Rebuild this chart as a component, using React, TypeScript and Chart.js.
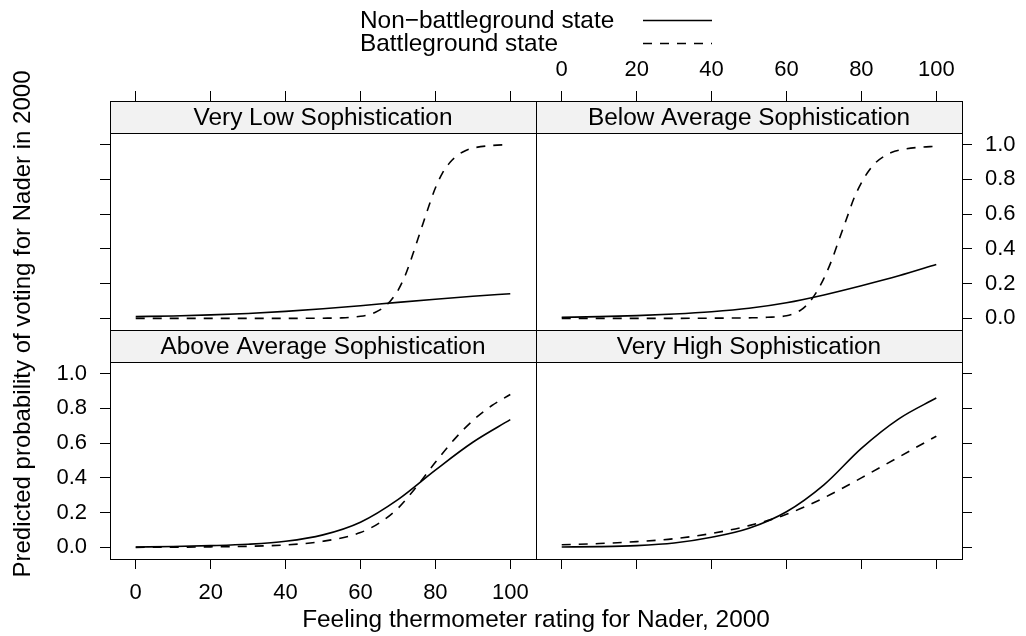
import React, { useEffect, useRef } from "react";
import { Chart, registerables } from "chart.js";

Chart.register(...registerables);

// ---------------- data ----------------
const X_TICKS = [0, 20, 40, 60, 80, 100];
const Y_TICKS = [0, 0.2, 0.4, 0.6, 0.8, 1.0];

const PANEL_TITLES = [
  "Very Low Sophistication",
  "Below Average Sophistication",
  "Above Average Sophistication",
  "Very High Sophistication",
];
const SERIES_NAMES = ["Non\u2212battleground state", "Battleground state"];
const X_TITLE = "Feeling thermometer rating for Nader, 2000";
const Y_TITLE = "Predicted probability of voting for Nader in 2000";

const X_COARSE = [0, 10, 20, 30, 40, 50, 60, 70, 80, 90, 100];
const X_MID = [0, 10, 20, 30, 40, 50, 60, 65, 70, 75, 80, 85, 90, 95, 100];
const X_FINE = [0, 10, 20, 30, 40, 50, 55, 60, 62, 64, 66, 68, 70, 72, 74, 76, 78, 80, 82, 84, 86, 88, 90, 95, 100];

// Very Low Sophistication
const VLOW_NON = [0.010, 0.014, 0.020, 0.028, 0.040, 0.055, 0.073, 0.092, 0.110, 0.127, 0.142];
const VLOW_BAT = [0.0, 0.0, 0.0, 0.0, 0.0, 0.001, 0.003, 0.012, 0.02, 0.035, 0.06, 0.10, 0.16, 0.25, 0.37, 0.50, 0.63, 0.75, 0.84, 0.90, 0.94, 0.965, 0.98, 0.995, 1.0];
// Below Average Sophistication
const BAVG_NON = [0.006, 0.010, 0.016, 0.025, 0.038, 0.058, 0.090, 0.135, 0.188, 0.245, 0.31];
const BAVG_BAT = [0.0, 0.0, 0.0, 0.0, 0.001, 0.003, 0.006, 0.015, 0.028, 0.05, 0.09, 0.15, 0.23, 0.33, 0.45, 0.57, 0.69, 0.78, 0.85, 0.90, 0.932, 0.955, 0.968, 0.984, 0.99];
// Above Average Sophistication
const AAVG_NON = [0.002, 0.005, 0.010, 0.018, 0.035, 0.072, 0.145, 0.275, 0.445, 0.605, 0.735];
const AAVG_BAT = [0.0, 0.001, 0.003, 0.006, 0.014, 0.035, 0.085, 0.14, 0.225, 0.35, 0.49, 0.62, 0.73, 0.815, 0.88];
// Very High Sophistication
const VHIGH_NON = [0.002, 0.004, 0.010, 0.025, 0.058, 0.11, 0.205, 0.36, 0.57, 0.74, 0.86];
const VHIGH_BAT = [0.015, 0.022, 0.033, 0.05, 0.08, 0.125, 0.19, 0.285, 0.40, 0.52, 0.64];

// ---------------- layout / style ----------------
const W = 1026;
const H = 636;
const FONT_FAMILY = "'Liberation Sans', Arial, Helvetica, sans-serif";
const BASE_SIZE = 24.4;
const YLAB_SIZE = 24;
const TICK_SIZE = 22;
const TICK_LEN = 10;
const STRIP_H = 32;
const LINE_W = 1.6;
const DASH = [9, 8];
const X_MIN = -6.87;
const X_MAX = 106.87;
const Y_MIN = -0.067;
const Y_MAX = 1.067;
const LABEL_ROOM_X = 50;
const LABEL_ROOM_Y = 54;

const COL_EDGES = [110, 536, 962];
const ROW_TOPS = [133, 362];
const ROW_BOTTOMS = [330, 559];

type Panel = {
  title: string;
  row: number;
  col: number;
  nonX: number[];
  nonY: number[];
  batX: number[];
  batY: number[];
};

const PANELS: Panel[] = [
  { title: PANEL_TITLES[0], row: 0, col: 0, nonX: X_COARSE, nonY: VLOW_NON, batX: X_FINE, batY: VLOW_BAT },
  { title: PANEL_TITLES[1], row: 0, col: 1, nonX: X_COARSE, nonY: BAVG_NON, batX: X_FINE, batY: BAVG_BAT },
  { title: PANEL_TITLES[2], row: 1, col: 0, nonX: X_COARSE, nonY: AAVG_NON, batX: X_MID, batY: AAVG_BAT },
  { title: PANEL_TITLES[3], row: 1, col: 1, nonX: X_COARSE, nonY: VHIGH_NON, batX: X_COARSE, batY: VHIGH_BAT },
];

const zip = (xs: number[], ys: number[]) => xs.map((x, i) => ({ x, y: ys[i] }));

function makePlugin(title: string, extras: boolean) {
  return {
    id: "latticePanel",
    afterDraw(chart: any) {
      const { ctx, chartArea: a } = chart;
      const w = a.right - a.left;
      const h = a.bottom - a.top;
      const sy = a.top - STRIP_H;
      ctx.save();
      // strip
      ctx.fillStyle = "#F2F2F2";
      ctx.fillRect(a.left, sy, w, STRIP_H);
      ctx.strokeStyle = "#000";
      ctx.lineWidth = 1;
      ctx.setLineDash([]);
      ctx.strokeRect(a.left + 0.5, sy + 0.5, w, STRIP_H);
      ctx.strokeRect(a.left + 0.5, a.top + 0.5, w, h);
      ctx.fillStyle = "#000";
      ctx.font = `${BASE_SIZE}px ${FONT_FAMILY}`;
      ctx.textAlign = "center";
      ctx.textBaseline = "middle";
      ctx.fillText(title, a.left + w / 2, sy + STRIP_H / 2 + 1);

      if (extras) {
        // key
        ctx.textAlign = "left";
        ctx.fillText(SERIES_NAMES[0], 360, 21);
        ctx.fillText(SERIES_NAMES[1], 360, 44);
        ctx.lineWidth = LINE_W;
        ctx.beginPath();
        ctx.moveTo(643, 20.5);
        ctx.lineTo(712, 20.5);
        ctx.stroke();
        ctx.setLineDash(DASH);
        ctx.beginPath();
        ctx.moveTo(643, 43.5);
        ctx.lineTo(712, 43.5);
        ctx.stroke();
        ctx.setLineDash([]);
        // axis titles
        ctx.textAlign = "center";
        ctx.fillText(X_TITLE, (COL_EDGES[0] + COL_EDGES[2]) / 2, 620);
        ctx.font = `${YLAB_SIZE}px ${FONT_FAMILY}`;
        ctx.translate(23, 324);
        ctx.rotate(-Math.PI / 2);
        ctx.fillText(Y_TITLE, 0, 0);
      }
      ctx.restore();
    },
  };
}

function makeConfig(p: Panel, extras: boolean): any {
  const labelled = p.row !== p.col;
  const xTop = p.row === 0;
  const yLeft = p.col === 0;
  const left = COL_EDGES[p.col];
  const right = COL_EDGES[p.col + 1];
  const top = ROW_TOPS[p.row];
  const bottom = ROW_BOTTOMS[p.row];
  const xTickLen = xTop ? TICK_LEN + STRIP_H : TICK_LEN;
  const xAxisH = xTickLen + (labelled ? LABEL_ROOM_X : 0);
  const yAxisW = TICK_LEN + (labelled ? LABEL_ROOM_Y : 0);
  const padding = {
    left: left - (yLeft ? yAxisW : 0),
    right: W - right - (yLeft ? 0 : yAxisW),
    top: top - (xTop ? xAxisH : 0),
    bottom: H - bottom - (xTop ? 0 : xAxisH),
  };
  const tickFont = { family: FONT_FAMILY, size: TICK_SIZE };
  return {
    type: "line",
    data: {
      datasets: [
        {
          label: SERIES_NAMES[0],
          data: zip(p.nonX, p.nonY),
          borderColor: "#000",
          borderWidth: LINE_W,
          pointRadius: 0,
          fill: false,
          cubicInterpolationMode: "monotone",
        },
        {
          label: SERIES_NAMES[1],
          data: zip(p.batX, p.batY),
          borderColor: "#000",
          borderWidth: LINE_W,
          borderDash: DASH,
          pointRadius: 0,
          fill: false,
          cubicInterpolationMode: "monotone",
        },
      ],
    },
    options: {
      responsive: false,
      animation: false,
      events: [],
      layout: { padding },
      plugins: {
        legend: { display: false },
        tooltip: { enabled: false },
        title: { display: false },
      },
      scales: {
        x: {
          type: "linear",
          position: xTop ? "top" : "bottom",
          min: X_MIN,
          max: X_MAX,
          afterBuildTicks: (s: any) => {
            s.ticks = X_TICKS.map((v) => ({ value: v }));
          },
          afterFit: (s: any) => {
            s.height = xAxisH;
          },
          ticks: {
            display: labelled,
            font: tickFont,
            color: "#000",
            padding: xTop ? 8 : 11,
            maxRotation: 0,
            autoSkip: false,
            callback: (v: number) => String(v),
          },
          grid: {
            drawOnChartArea: false,
            drawTicks: true,
            tickLength: xTickLen,
            tickColor: "#000",
            tickWidth: 1,
          },
          border: { display: false },
        },
        y: {
          type: "linear",
          position: yLeft ? "left" : "right",
          min: Y_MIN,
          max: Y_MAX,
          afterBuildTicks: (s: any) => {
            s.ticks = Y_TICKS.map((v) => ({ value: v }));
          },
          afterFit: (s: any) => {
            s.width = yAxisW;
          },
          ticks: {
            display: labelled,
            font: tickFont,
            color: "#000",
            padding: 13,
            autoSkip: false,
            callback: (v: number) => v.toFixed(1),
          },
          grid: {
            drawOnChartArea: false,
            drawTicks: true,
            tickLength: TICK_LEN,
            tickColor: "#000",
            tickWidth: 1,
          },
          border: { display: false },
        },
      },
    },
    plugins: [makePlugin(p.title, extras)],
  };
}

export default function App() {
  const canvases = useRef<(HTMLCanvasElement | null)[]>([]);

  useEffect(() => {
    const charts = PANELS.map(
      (p, i) => new Chart(canvases.current[i] as HTMLCanvasElement, makeConfig(p, i === 0))
    );
    return () => charts.forEach((c) => c.destroy());
  }, []);

  return (
    <div style={{ position: "absolute", left: 0, top: 0, width: W, height: H, background: "#fff" }}>
      {PANELS.map((p, i) => (
        <canvas
          key={i}
          ref={(el) => {
            canvases.current[i] = el;
          }}
          width={W}
          height={H}
          style={{ position: "absolute", left: 0, top: 0, width: W, height: H }}
        />
      ))}
    </div>
  );
}
